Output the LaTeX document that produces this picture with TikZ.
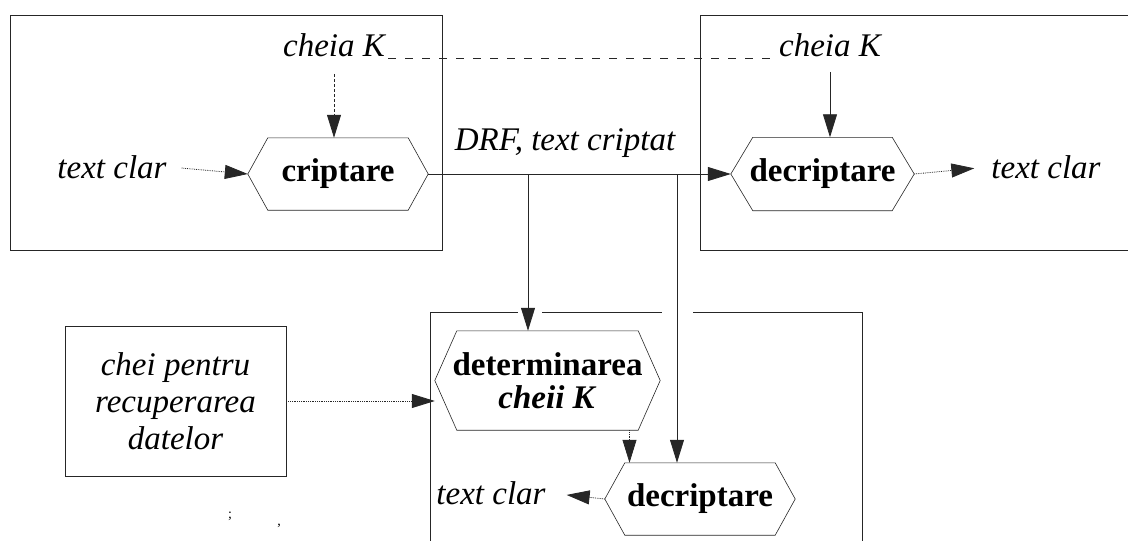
\documentclass[tikz,border=0pt]{standalone}
\usepackage{fontspec}
\setmainfont{Liberation Serif}
\newfontfamily\lserif{Liberation Serif}
\usetikzlibrary{arrows.meta,calc}
\begin{document}
\begin{tikzpicture}[x=1pt,y=-1pt,
  every node/.style={font=\lserif\fontsize{33}{37}\selectfont, inner sep=3pt},
  ln/.style={line width=0.8pt, draw=black!85},
  arr/.style={ln, -{Triangle[length=23pt,width=14pt]}},
  hexbox/.style={inner sep=0pt, font=\lserif\fontsize{33}{37}\selectfont\bfseries, align=center},
  keybox/.style={ln, draw, inner sep=0pt, align=center, font=\lserif\fontsize{33}{37}\selectfont\itshape},
  lab/.style={font=\lserif\fontsize{33}{37}\selectfont\itshape},
  frame/.style={line width=0.8pt, draw=black!85}
]
\useasboundingbox (0,0) rectangle (1128,541);

% frames
\draw[frame] (10,15) rectangle (442,250);
\draw[frame] (1128,15) -- (700,15) -- (700,250) -- (1128,250);
\draw[frame] (430,541) -- (430,312) -- (518,312);
\draw[frame] (542,312) -- (662,312);
\draw[frame] (693,312) -- (862,312) -- (862,541);

% hexagon nodes
\node[hexbox, minimum width=180pt, minimum height=72pt] (crip) at (338,174) {criptare};
\node[hexbox, minimum width=183pt, minimum height=73pt] (dec1) at (822.5,174) {decriptare};
\node[hexbox, minimum width=225pt, minimum height=99pt] (det) at (547.5,380.5) {determinarea\\[-4pt]\textit{cheii K}};
\node[hexbox, minimum width=190pt, minimum height=72pt] (dec2) at (700,499) {decriptare};

\foreach \n/\d in {crip/20, dec1/22, det/22, dec2/20}{
  \draw[ln, line width=0.6pt] (\n.west) -- ([xshift=\d pt]\n.north west) -- ([xshift=-\d pt]\n.north east)
    -- (\n.east) -- ([xshift=-\d pt]\n.south east) -- ([xshift=\d pt]\n.south west) -- cycle;
}

% text labels
\node[lab] (k1) at (334,45) {cheia K};
\node[lab] (k2) at (830,45) {cheia K};
\node[lab] (tc1) at (112,167) {text clar};
\node[lab] (tc2) at (1046,167) {text clar};
\node[lab] (tc3) at (491,493) {text clar};
\node[lab] (drf) at (565,143) {DRF, text criptat};
\node[keybox, minimum width=221pt, minimum height=150pt] (keys) at (175.5,401) {chei pentru\\recuperarea\\datelor};
\node[font=\fontsize{14}{14}\selectfont] (m1) at (230,516) {;};
\node[font=\fontsize{14}{14}\selectfont] (m2) at (279,526) {,};

% connectors
\draw[ln, dashed, dash pattern=on 8pt off 9pt] ([yshift=-13pt]k1.east) -- ([yshift=-13pt]k2.west);
\draw[arr, densely dashed] ([yshift=-14pt]k1.south) -- (k1.south |- crip.north);
\draw[arr] ([yshift=-12pt]k2.south) -- (k2.south |- dec1.north);
\draw[arr, densely dotted, shorten <=12pt] (tc1.east) -- (crip.west);
\draw[arr] (crip.east) -- (dec1.west);
\draw[arr, densely dotted, shorten >=14pt] (dec1.east) -- (tc2.west);

\coordinate (b1) at (528,174);
\coordinate (b2) at (677,174);
\draw[arr] (b1) -- (b1 |- det.north);
\draw[arr] (b2) -- (b2 |- dec2.north);
\draw[arr, densely dotted] ([xshift=82pt]det.south) -- ([xshift=82pt]det.south |- dec2.north);
\draw[arr, densely dotted, shorten >=18pt] (dec2.west) -- (tc3.east);
\draw[arr, densely dotted] (keys.east) -- (keys.east -| det.west);
\end{tikzpicture}
\end{document}
